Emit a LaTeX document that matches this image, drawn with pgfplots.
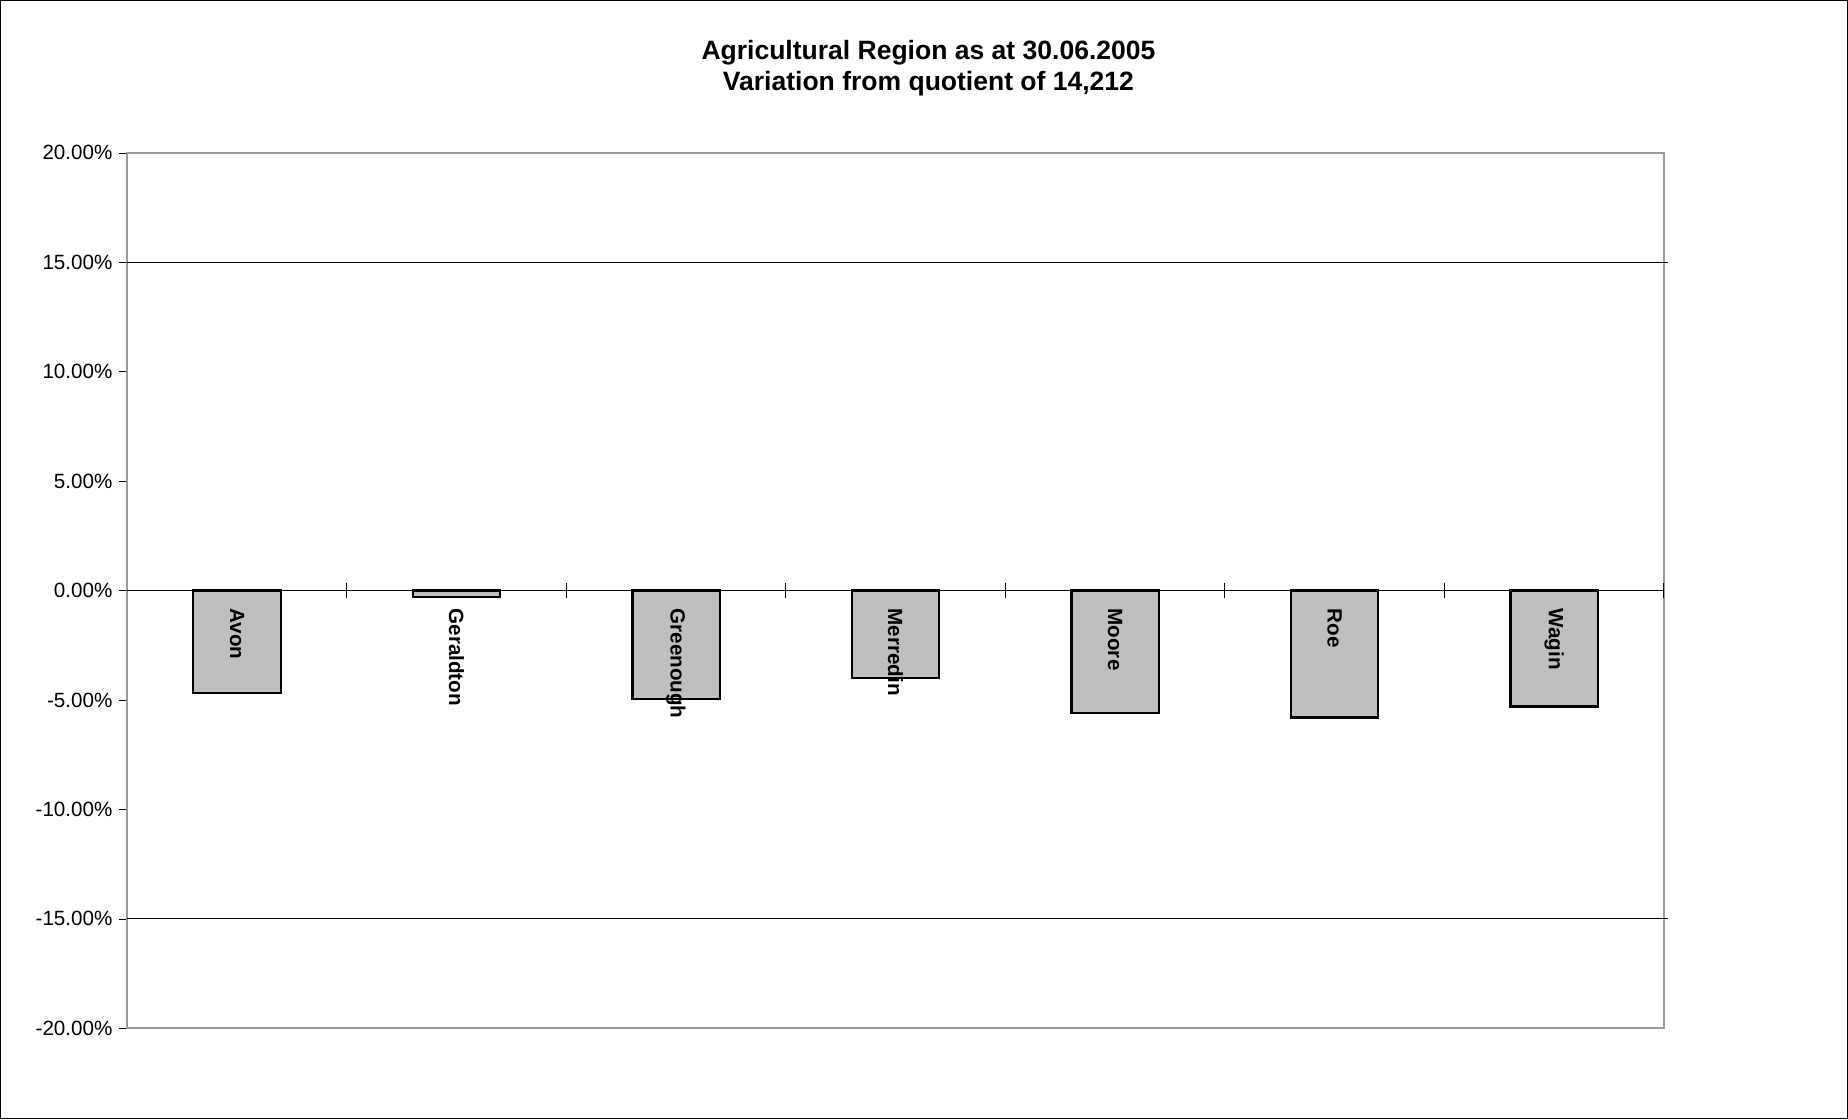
\documentclass[border=0pt]{standalone}
\usepackage{pgfplots}
\pgfplotsset{compat=1.18}
\usepackage{fontspec}
\setmainfont{Liberation Sans}
\begin{document}
\begin{tikzpicture}
\begin{axis}[scale only axis, width=782.4pt, height=445.8pt,
 xmin=-0.5, xmax=6.5, ymin=-20, ymax=20, xtick=\empty,
 ytick={-20,-15,...,20}, yticklabel={\pgfmathprintnumber[fixed,fixed zerofill,precision=2]{\tick}\%},
 /pgf/number format/assume math mode=true,
 ytick pos=left, tick align=outside, major tick length=4pt,
 axis line style={gray!80, line width=0.9pt}, ytick style={black},
 tick label style={font=\fontsize{10.5}{12}\selectfont},
 clip=false]
\addplot[ybar, bar width=44.4pt, fill=black!25, draw=black, line width=1.1pt]
 coordinates {(0,-4.68) (1,-0.3) (2,-4.95) (3,-4.0) (4,-5.6) (5,-5.8) (6,-5.3)};
\draw[black, line width=0.6pt] (axis cs:-0.5,15) -- ([xshift=2pt]axis cs:6.5,15);
\draw[black, line width=0.6pt] (axis cs:-0.5,-15) -- ([xshift=2pt]axis cs:6.5,-15);
\draw[black, line width=0.5pt] (axis cs:-0.5,0) -- (axis cs:6.5,0);
\pgfplotsinvokeforeach{0.5,1.5,2.5,3.5,4.5,5.5,6.5}{\draw[black] ([yshift=-4pt]axis cs:#1,0) -- ([yshift=4pt]axis cs:#1,0);}
\tikzset{lbl/.style={rotate=-90, anchor=west, font=\bfseries\fontsize{10.5}{12}\selectfont, inner sep=0pt}}
\node[lbl] at ([yshift=-9pt]axis cs:0,0) {Avon};
\node[lbl] at ([yshift=-9pt]axis cs:1,0) {Geraldton};
\node[lbl] at ([yshift=-9pt]axis cs:2,0) {Greenough};
\node[lbl] at ([yshift=-9pt]axis cs:3,0) {Merredin};
\node[lbl] at ([yshift=-9pt]axis cs:4,0) {Moore};
\node[lbl] at ([yshift=-9pt]axis cs:5,0) {Roe};
\node[lbl] at ([yshift=-9pt]axis cs:6,0) {Wagin};
\node[font=\bfseries\fontsize{13.5}{16}\selectfont, align=center] at ([yshift=43pt]axis cs:3.15,20) {Agricultural Region as at 30.06.2005\\Variation from quotient of 14,212};
\draw[black, line width=0.6pt] ([xshift=-64.5pt,yshift=-46pt]axis cs:-0.5,-20) rectangle ([xshift=93.5pt,yshift=77.5pt]axis cs:6.5,20);
\end{axis}
\end{tikzpicture}
\end{document}
